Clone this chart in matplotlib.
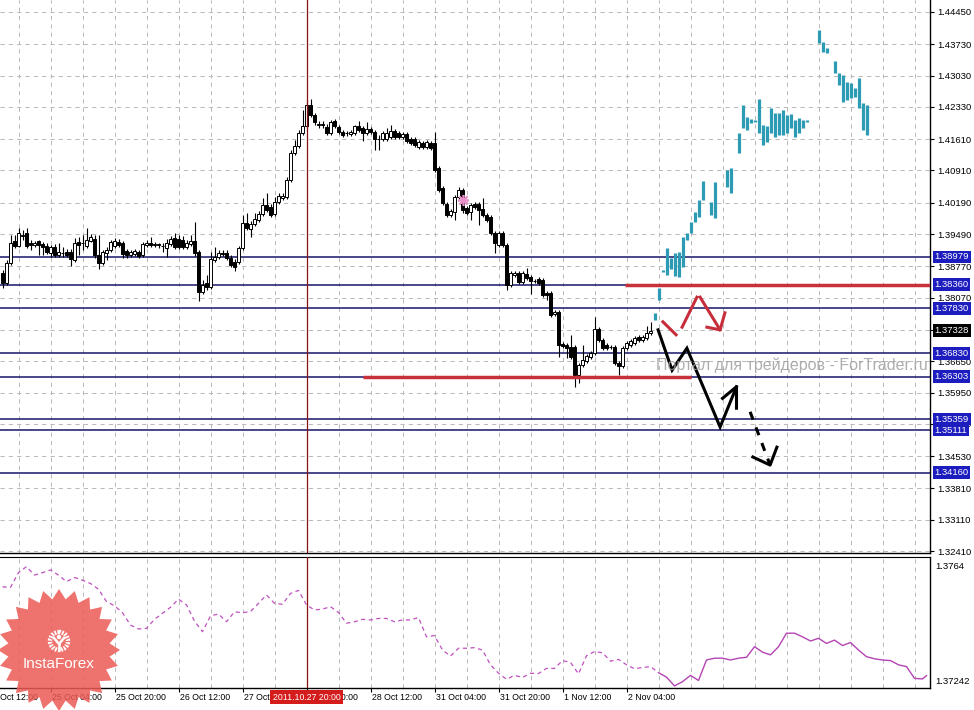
import numpy as np
import matplotlib
matplotlib.use('Agg')
import matplotlib.pyplot as plt
from matplotlib.patches import Polygon, Circle

plt.rcParams['font.family'] = ['Liberation Sans', 'DejaVu Sans']
plt.rcParams['lines.scale_dashes'] = False

# --- EURUSD H1 candles (bar index 0..162) ---
opens = [
    1.3862, 1.3840, 1.3884, 1.3934, 1.3922, 1.3945, 1.3951, 1.3929, 1.3925, 1.3934,
    1.3927, 1.3922, 1.3907, 1.3920, 1.3902, 1.3907, 1.3909, 1.3909, 1.3891, 1.3931,
    1.3929, 1.3922, 1.3934, 1.3938, 1.3902, 1.3884, 1.3907, 1.3913, 1.3922, 1.3931,
    1.3929, 1.3911, 1.3902, 1.3904, 1.3909, 1.3902, 1.3925, 1.3929, 1.3925, 1.3925,
    1.3922, 1.3918, 1.3927, 1.3940, 1.3938, 1.3936, 1.3920, 1.3927, 1.3934, 1.3909,
    1.3820, 1.3840, 1.3831, 1.3891, 1.3898, 1.3907, 1.3907, 1.3896, 1.3887, 1.3887,
    1.3918, 1.3974, 1.3960, 1.3971, 1.3980, 1.3994, 1.4014, 1.4009, 1.3994, 1.4021,
    1.4030, 1.4032, 1.4070, 1.4130, 1.4146, 1.4175, 1.4190, 1.4237, 1.4215, 1.4193,
    1.4193, 1.4188, 1.4175, 1.4201, 1.4188, 1.4177, 1.4175, 1.4172, 1.4175, 1.4190,
    1.4186, 1.4175, 1.4184, 1.4177, 1.4161, 1.4161, 1.4161, 1.4166, 1.4179, 1.4175,
    1.4166, 1.4172, 1.4161, 1.4161, 1.4143, 1.4152, 1.4143, 1.4152, 1.4152, 1.4097,
    1.4052, 1.4016, 1.3992, 1.3998, 1.4032, 1.4047, 1.4007, 1.3998, 1.4016, 1.4016,
    1.4005, 1.3992, 1.3987, 1.3951, 1.3925, 1.3951, 1.3925, 1.3835, 1.3858, 1.3862,
    1.3842, 1.3860, 1.3853, 1.3844, 1.3849, 1.3846, 1.3817, 1.3817, 1.3770, 1.3775,
    1.3703, 1.3701, 1.3697, 1.3697, 1.3634, 1.3657, 1.3665, 1.3674, 1.3683, 1.3737,
    1.3712, 1.3701, 1.3697, 1.3697, 1.3661, 1.3654, 1.3694, 1.3701, 1.3706, 1.3719,
    1.3712, 1.3717, 1.3728]
highs = [
    1.3869, 1.3891, 1.3947, 1.3947, 1.3963, 1.3958, 1.3963, 1.3936, 1.3934, 1.3936,
    1.3931, 1.3929, 1.3925, 1.3927, 1.3929, 1.3920, 1.3916, 1.3916, 1.3940, 1.3942,
    1.3947, 1.3963, 1.3949, 1.3947, 1.3947, 1.3913, 1.3920, 1.3936, 1.3940, 1.3938,
    1.3934, 1.3916, 1.3913, 1.3916, 1.3913, 1.3931, 1.3936, 1.3942, 1.3931, 1.3929,
    1.3929, 1.3938, 1.3945, 1.3951, 1.3947, 1.3945, 1.3936, 1.3947, 1.3976, 1.3913,
    1.3846, 1.3858, 1.3909, 1.3920, 1.3913, 1.3913, 1.3913, 1.3902, 1.3893, 1.3922,
    1.3992, 1.3996, 1.3978, 1.3996, 1.4001, 1.4030, 1.4041, 1.4016, 1.4032, 1.4041,
    1.4041, 1.4076, 1.4137, 1.4159, 1.4181, 1.4226, 1.4248, 1.4251, 1.4219, 1.4201,
    1.4201, 1.4195, 1.4204, 1.4206, 1.4193, 1.4181, 1.4179, 1.4181, 1.4193, 1.4201,
    1.4190, 1.4199, 1.4188, 1.4181, 1.4170, 1.4179, 1.4186, 1.4193, 1.4184, 1.4179,
    1.4177, 1.4177, 1.4166, 1.4166, 1.4159, 1.4157, 1.4159, 1.4157, 1.4177, 1.4101,
    1.4056, 1.4021, 1.4005, 1.4036, 1.4054, 1.4052, 1.4012, 1.4018, 1.4021, 1.4021,
    1.4030, 1.3996, 1.3992, 1.3956, 1.3956, 1.3956, 1.3929, 1.3867, 1.3867, 1.3867,
    1.3867, 1.3873, 1.3858, 1.3849, 1.3853, 1.3851, 1.3822, 1.3822, 1.3779, 1.3779,
    1.3708, 1.3706, 1.3724, 1.3701, 1.3661, 1.3701, 1.3681, 1.3688, 1.3764, 1.3741,
    1.3717, 1.3706, 1.3701, 1.3701, 1.3665, 1.3699, 1.3710, 1.3715, 1.3721, 1.3724,
    1.3724, 1.3744, 1.3753]
lows = [
    1.3828, 1.3835, 1.3880, 1.3918, 1.3920, 1.3936, 1.3918, 1.3913, 1.3920, 1.3902,
    1.3902, 1.3904, 1.3898, 1.3898, 1.3898, 1.3898, 1.3898, 1.3878, 1.3887, 1.3902,
    1.3913, 1.3918, 1.3931, 1.3896, 1.3871, 1.3880, 1.3891, 1.3909, 1.3918, 1.3920,
    1.3896, 1.3896, 1.3898, 1.3900, 1.3896, 1.3898, 1.3920, 1.3920, 1.3920, 1.3918,
    1.3909, 1.3898, 1.3922, 1.3916, 1.3916, 1.3916, 1.3916, 1.3922, 1.3900, 1.3799,
    1.3815, 1.3824, 1.3826, 1.3887, 1.3893, 1.3900, 1.3891, 1.3875, 1.3867, 1.3882,
    1.3913, 1.3958, 1.3942, 1.3967, 1.3976, 1.3989, 1.3998, 1.3987, 1.3989, 1.4016,
    1.4025, 1.4027, 1.4065, 1.4126, 1.4141, 1.4170, 1.4186, 1.4210, 1.4193, 1.4186,
    1.4186, 1.4170, 1.4170, 1.4186, 1.4172, 1.4166, 1.4168, 1.4168, 1.4170, 1.4177,
    1.4157, 1.4170, 1.4172, 1.4137, 1.4137, 1.4157, 1.4157, 1.4161, 1.4161, 1.4161,
    1.4161, 1.4152, 1.4148, 1.4143, 1.4139, 1.4139, 1.4139, 1.4137, 1.4088, 1.4043,
    1.4014, 1.3987, 1.3987, 1.3980, 1.4027, 1.3996, 1.3992, 1.3980, 1.4005, 1.3969,
    1.3987, 1.3976, 1.3947, 1.3907, 1.3920, 1.3920, 1.3824, 1.3831, 1.3853, 1.3837,
    1.3837, 1.3846, 1.3815, 1.3840, 1.3835, 1.3808, 1.3802, 1.3764, 1.3766, 1.3674,
    1.3694, 1.3672, 1.3670, 1.3607, 1.3616, 1.3652, 1.3661, 1.3670, 1.3679, 1.3708,
    1.3690, 1.3690, 1.3692, 1.3657, 1.3634, 1.3650, 1.3690, 1.3697, 1.3701, 1.3708,
    1.3708, 1.3712, 1.3724]
closes = [
    1.3840, 1.3884, 1.3929, 1.3922, 1.3951, 1.3947, 1.3922, 1.3925, 1.3929, 1.3925,
    1.3920, 1.3909, 1.3920, 1.3902, 1.3909, 1.3907, 1.3902, 1.3893, 1.3929, 1.3925,
    1.3929, 1.3936, 1.3942, 1.3902, 1.3884, 1.3909, 1.3913, 1.3931, 1.3934, 1.3925,
    1.3904, 1.3902, 1.3909, 1.3911, 1.3900, 1.3927, 1.3929, 1.3925, 1.3925, 1.3925,
    1.3922, 1.3929, 1.3938, 1.3920, 1.3920, 1.3920, 1.3929, 1.3934, 1.3907, 1.3820,
    1.3835, 1.3831, 1.3893, 1.3898, 1.3907, 1.3904, 1.3896, 1.3880, 1.3875, 1.3918,
    1.3974, 1.3963, 1.3971, 1.3983, 1.3994, 1.4014, 1.4003, 1.3992, 1.4021, 1.4034,
    1.4034, 1.4070, 1.4130, 1.4146, 1.4175, 1.4190, 1.4237, 1.4215, 1.4199, 1.4193,
    1.4193, 1.4175, 1.4199, 1.4190, 1.4177, 1.4170, 1.4175, 1.4177, 1.4190, 1.4181,
    1.4175, 1.4184, 1.4177, 1.4161, 1.4161, 1.4175, 1.4175, 1.4179, 1.4166, 1.4166,
    1.4172, 1.4157, 1.4152, 1.4148, 1.4155, 1.4143, 1.4155, 1.4141, 1.4092, 1.4047,
    1.4018, 1.3992, 1.4001, 1.4032, 1.4047, 1.4003, 1.3996, 1.4014, 1.4009, 1.4003,
    1.3992, 1.3980, 1.3951, 1.3929, 1.3951, 1.3925, 1.3835, 1.3862, 1.3862, 1.3842,
    1.3862, 1.3851, 1.3844, 1.3844, 1.3840, 1.3813, 1.3813, 1.3768, 1.3775, 1.3701,
    1.3699, 1.3694, 1.3674, 1.3634, 1.3657, 1.3668, 1.3677, 1.3683, 1.3737, 1.3712,
    1.3694, 1.3694, 1.3697, 1.3661, 1.3654, 1.3694, 1.3706, 1.3710, 1.3717, 1.3712,
    1.3719, 1.3728, 1.3732]

# --- teal projection bars (high/low) ---
teal_bars = [163, 164, 165, 166, 167, 168, 169, 170, 171, 172, 173, 174, 175, 177, 178,
             181, 182, 184, 185, 186, 187, 188, 189, 190, 191, 192, 193, 194, 195, 196,
             197, 198, 199, 200, 201, 204, 205, 206, 208, 209, 210, 211, 212, 213, 214,
             215, 216]
teal_hi = [1.3773, 1.3828, 1.3869, 1.3918, 1.3896, 1.3907, 1.3909, 1.3942, 1.3951, 1.3976,
           1.3998, 1.4025, 1.4068, 1.4021, 1.4065, 1.4092, 1.4097, 1.4175, 1.4237, 1.4210,
           1.4206, 1.4204, 1.4251, 1.4193, 1.4190, 1.4231, 1.4219, 1.4219, 1.4226, 1.4215,
           1.4217, 1.4204, 1.4208, 1.4204, 1.4204, 1.4405, 1.4378, 1.4365, 1.4336, 1.4309,
           1.4304, 1.4289, 1.4286, 1.4275, 1.4298, 1.4242, 1.4237]
teal_lo = [1.3757, 1.3802, 1.3864, 1.3858, 1.3871, 1.3855, 1.3853, 1.3875, 1.3936, 1.3951,
           1.3976, 1.3987, 1.4025, 1.3992, 1.3985, 1.4054, 1.4041, 1.4130, 1.4186, 1.4181,
           1.4197, 1.4199, 1.4175, 1.4148, 1.4155, 1.4175, 1.4166, 1.4170, 1.4170, 1.4175,
           1.4186, 1.4166, 1.4175, 1.4186, 1.4199, 1.4376, 1.4356, 1.4353, 1.4309, 1.4282,
           1.4244, 1.4248, 1.4253, 1.4255, 1.4231, 1.4181, 1.4170]

# --- lower window indicator ---
ind_bars = list(range(0, 231, 2)) + [231]
ind_vals = [
    1.37571, 1.37569, 1.37618, 1.37638, 1.37610, 1.37618, 1.37627, 1.37610, 1.37588, 1.37602,
    1.37593, 1.37582, 1.37563, 1.37522, 1.37508, 1.37485, 1.37444, 1.37431, 1.37433, 1.37463,
    1.37483, 1.37503, 1.37530, 1.37511, 1.37457, 1.37422, 1.37474, 1.37481, 1.37455, 1.37488,
    1.37485, 1.37489, 1.37516, 1.37544, 1.37516, 1.37513, 1.37549, 1.37559, 1.37511, 1.37494,
    1.37497, 1.37505, 1.37486, 1.37450, 1.37455, 1.37463, 1.37461, 1.37466, 1.37466, 1.37455,
    1.37461, 1.37461, 1.37469, 1.37405, 1.37409, 1.37361, 1.37341, 1.37367, 1.37367, 1.37369,
    1.37361, 1.37312, 1.37284, 1.37264, 1.37277, 1.37270, 1.37284, 1.37283, 1.37300, 1.37300,
    1.37326, 1.37320, 1.37282, 1.37342, 1.37356, 1.37352, 1.37324, 1.37330, 1.37312, 1.37299,
    1.37303, 1.37306, 1.37286, 1.37271, 1.37242, 1.37256, 1.37277, 1.37260, 1.37328, 1.37334,
    1.37334, 1.37328, 1.37334, 1.37337, 1.37372, 1.37354, 1.37345, 1.37372, 1.37417, 1.37417,
    1.37405, 1.37391, 1.37400, 1.37383, 1.37394, 1.37376, 1.37386, 1.37361, 1.37339, 1.37332,
    1.37328, 1.37326, 1.37312, 1.37306, 1.37267, 1.37265, 1.37276]
ind_solid_from = 164

# --- levels and labels ---
grid_levels = [1.44450, 1.43730, 1.43030, 1.42330, 1.41610, 1.40910, 1.40190, 1.39490,
               1.38770, 1.38070, 1.37350, 1.36650, 1.35950, 1.35250, 1.34530, 1.33810,
               1.33110, 1.32410]
level_lines = [1.38979, 1.38360, 1.37830, 1.36830, 1.36303, 1.35359, 1.35111, 1.34160]
last_price = 1.37328
red_levels = [(1.38360, 155.6, 232.0), (1.36303, 90.0, 172.0)]
cursor_bar = 76
cursor_text = '2011.10.27 20:00'
date_bars = [-4, 12, 28, 44, 60, 76, 92, 108, 124, 140, 156]
date_labels = ['24 Oct 12:00', '25 Oct 04:00', '25 Oct 20:00', '26 Oct 12:00',
               '27 Oct 04:00', '27 Oct 20:00', '28 Oct 12:00', '31 Oct 04:00',
               '31 Oct 20:00', '1 Nov 12:00', '2 Nov 04:00']
ind_top, ind_bottom = 1.3764, 1.37242

# forecast arrows (bar, price)
black_x = [163.9, 167.4, 171.1, 179.4, 183.5]
black_y = [1.3735, 1.3645, 1.3694, 1.3518, 1.3608]
black_head_x = [180.0, 183.5, 183.5]
black_head_y = [1.3582, 1.3608, 1.3560]
black_dash_x = [186.9, 191.9]
black_dash_y = [1.3552, 1.3433]
black_dash_head_x = [187.6, 191.9, 193.6]
black_dash_head_y = [1.3451, 1.3433, 1.3473]
red_x = [165.1, 168.4, np.nan, 169.9, 173.6, np.nan, 174.4, 179.4]
red_y = [1.3753, 1.3724, np.nan, 1.3741, 1.3808, np.nan, 1.3808, 1.3735]
red_head_x = [176.1, 179.4, 180.6]
red_head_y = [1.3741, 1.3735, 1.3773]

W, H = 974, 710


def px_box(x0, y0, x1, y1):
    return [x0 / W, 1 - y1 / H, (x1 - x0) / W, (y1 - y0) / H]


fig = plt.figure(figsize=(W / 100, H / 100), dpi=100)
ax = fig.add_axes(px_box(0, 0, 930, 553))
ax2 = fig.add_axes(px_box(0, 557, 930, 688))

for a in (ax, ax2):
    a.set_xlim(-0.625, 231.875)
    for s in ('top', 'left'):
        a.spines[s].set_visible(False)
    for s in ('right', 'bottom'):
        a.spines[s].set_linewidth(1.0)
    for gx in range(4, 232, 8):
        a.axvline(gx, color='#b8b8b8', lw=0.7, ls=(0, (3, 3)), zorder=1)
    a.axvline(cursor_bar, color='#8b1010', lw=0.9, zorder=6)
ax2.spines['top'].set_visible(True)

ax.set_ylim(1.32366, 1.44718)
ax2.set_ylim(1.37235, 1.37670)

# grid + price scale
for g in grid_levels:
    ax.axhline(g, color='#b8b8b8', lw=0.7, ls=(0, (3, 3)), zorder=1)
ax.yaxis.tick_right()
ax.set_yticks(grid_levels)
ax.set_yticklabels([f'{g:.5f}' for g in grid_levels])
ax.tick_params(axis='y', length=3, width=0.8, pad=2, labelsize=6.8)
ax.set_xticks([])

# horizontal levels
for lv in level_lines:
    ax.axhline(lv, color='#16166a', lw=1.1, zorder=2)
    ax.text(1.0048, lv, f'{lv:.5f}', transform=ax.get_yaxis_transform(), ha='left',
            va='center', fontsize=6.8, color='white', zorder=10, clip_on=False,
            bbox=dict(boxstyle='square,pad=0.2', fc='#1d1dbf', ec='none'))
ax.text(1.0048, last_price, f'{last_price:.5f}', transform=ax.get_yaxis_transform(),
        ha='left', va='center', fontsize=6.8, color='white', zorder=10, clip_on=False,
        bbox=dict(boxstyle='square,pad=0.2', fc='black', ec='none'))
for lv, x0, x1 in red_levels:
    ax.hlines(lv, x0, x1, color='#c8303c', lw=2.5, zorder=5)

# candles
o, h, l, c = map(np.array, (opens, highs, lows, closes))
xb = np.arange(len(o))
up = c >= o
body_lo = np.minimum(o, c)
body_h = np.maximum(np.abs(c - o), 0.00008)
ax.vlines(xb, l, h, color='black', lw=0.8, zorder=3)
ax.bar(xb[up], body_h[up], bottom=body_lo[up], width=0.72, color='white',
       edgecolor='black', lw=0.7, zorder=4)
ax.bar(xb[~up], body_h[~up], bottom=body_lo[~up], width=0.72, color='black',
       edgecolor='black', lw=0.7, zorder=4)
ax.plot(115, 1.4025, marker=(8, 2, 0), ms=8, color='#e890c8', mew=1.2, zorder=6)

# teal projection
ax.vlines(teal_bars, teal_lo, teal_hi, color='#2e9bb5', lw=2.3, zorder=4)

# forecast arrows
ax.plot(black_x, black_y, color='black', lw=2.2, solid_joinstyle='miter', zorder=7)
ax.plot(black_head_x, black_head_y, color='black', lw=2.2, zorder=7)
ax.plot(black_dash_x, black_dash_y, color='black', lw=2.2, ls=(0, (6, 6)), zorder=7)
ax.plot(black_dash_head_x, black_dash_head_y, color='black', lw=2.2, zorder=7)
ax.plot(red_x, red_y, color='#c62e3c', lw=2.2, zorder=7)
ax.plot(red_head_x, red_head_y, color='#c62e3c', lw=2.2, zorder=7)

ax.text(163.3, 1.3657, 'Портал для трейдеров - ForTrader.ru', fontsize=11.5,
        color='#a0a0a0', alpha=0.85, ha='left', va='center', zorder=8)

# lower window
ib = np.array(ind_bars)
iv = np.array(ind_vals)
dash = ib <= ind_solid_from
ax2.plot(ib[dash], iv[dash], color='#c050c0', lw=0.9, ls=(0, (3, 2.5)), zorder=3)
ax2.plot(ib[ib >= ind_solid_from], iv[ib >= ind_solid_from], color='#b444b4', lw=1.0, zorder=3)
ax2.set_yticks([])
ax2.set_xticks([b for b in date_bars if b >= 0])
ax2.set_xticklabels([])
ax2.tick_params(axis='x', length=3, width=0.8)
ax2.text(1.006, ind_top, f'{ind_top:.4f}', transform=ax2.get_yaxis_transform(),
         ha='left', va='center', fontsize=6.8)
ax2.text(1.006, ind_bottom, f'{ind_bottom:.5f}', transform=ax2.get_yaxis_transform(),
         ha='left', va='bottom', fontsize=6.8)
for b, t in zip(date_bars, date_labels):
    ax2.text(b + 0.3, -0.069, t, transform=ax2.get_xaxis_transform(), ha='left',
             va='center', fontsize=6.3, clip_on=False, zorder=5)
ax2.text(cursor_bar, -0.069, cursor_text, transform=ax2.get_xaxis_transform(),
         ha='center', va='center', fontsize=6.3, color='white', zorder=9,
         bbox=dict(boxstyle='square,pad=0.3', fc='#d41c1c', ec='none'))

# InstaForex badge
lax = fig.add_axes([0, 0, 1, 1], zorder=20)
lax.set_xlim(0, W)
lax.set_ylim(H, 0)
lax.axis('off')
lax.patch.set_visible(False)
ang = np.linspace(0, 2 * np.pi, 49)[:-1]
rad = np.where(np.arange(48) % 2 == 0, 61, 51)
star = np.column_stack([59 + rad * np.cos(ang), 650 + rad * np.sin(ang)])
lax.add_patch(Polygon(star, closed=True, fc='#ec5a55', ec='none', alpha=0.85))
lax.add_patch(Circle((59, 641), 9, fill=False, ec='white', lw=3.2, ls=(0, (1.3, 0.9))))
lax.add_patch(Circle((59, 637), 2.2, fc='white', ec='none'))
lax.plot([54, 59, 64], [638, 644, 638], color='white', lw=1.8)
lax.plot([59, 59], [644, 650], color='white', lw=1.8)
lax.text(59, 664, 'InstaForex', color='white', fontsize=11, ha='center', va='center')

fig.savefig('out.png', dpi=100, facecolor='white')
